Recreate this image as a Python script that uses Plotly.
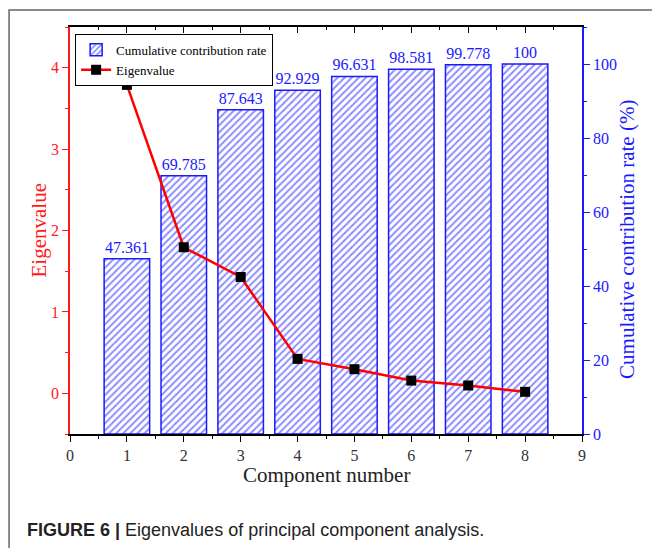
import plotly.graph_objects as go

components = [1, 2, 3, 4, 5, 6, 7, 8]
cumulative_rate = [47.361, 69.785, 87.643, 92.929, 96.631, 98.581, 99.778, 100]
cumulative_labels = ["47.361", "69.785", "87.643", "92.929", "96.631", "98.581", "99.778", "100"]
eigenvalues = [3.789, 1.794, 1.429, 0.423, 0.296, 0.156, 0.096, 0.018]

RED = "#ff1a1a"
BLUE = "#1a1aff"
SERIF = "Liberation Serif"

fig = go.Figure()

fig.add_trace(go.Bar(
    x=components, y=cumulative_rate, name="Cumulative contribution rate",
    width=0.8, yaxis="y", xaxis="x",
    marker=dict(color="white", line=dict(color=BLUE, width=1.5),
                pattern=dict(shape="/", fgcolor=BLUE, bgcolor="white", size=5, solidity=0.4)),
    text=cumulative_labels, textposition="outside", cliponaxis=False,
    textfont=dict(family=SERIF, size=16, color=BLUE),
))

fig.add_trace(go.Scatter(
    x=components, y=eigenvalues, name="Eigenvalue", yaxis="y2", xaxis="x",
    mode="lines+markers",
    line=dict(color="red", width=2.5),
    marker=dict(symbol="square", size=10, color="black"),
))

fig.update_layout(
    width=652, height=548,
    margin=dict(l=70, r=70, t=27, b=114),
    paper_bgcolor="white", plot_bgcolor="white",
    showlegend=True,
    legend=dict(x=0.01, y=0.983, xanchor="left", yanchor="top",
                bordercolor="black", borderwidth=1, bgcolor="white",
                font=dict(family=SERIF, size=13, color="black"),
                tracegroupgap=0, itemwidth=30),
    xaxis=dict(range=[0, 9], dtick=1, tick0=0, showgrid=False, zeroline=False,
               showline=True, linecolor="black", linewidth=1.5,
               ticks="outside", ticklen=6, tickcolor="black",
               minor=dict(ticks="outside", ticklen=3, dtick=0.5, tickcolor="black"),
               tickfont=dict(family=SERIF, size=16, color="#333")),
    xaxis2=dict(range=[0, 9], dtick=1, overlaying="x", side="top", anchor="y",
                showgrid=False, zeroline=False, showline=True, linecolor="black", linewidth=1.5,
                ticks="inside", ticklen=6, tickcolor="black", showticklabels=False,
                minor=dict(ticks="inside", ticklen=3, dtick=0.5, tickcolor="black")),
    yaxis=dict(range=[0, 110], dtick=20, side="right", showgrid=False, zeroline=False,
               showline=True, linecolor=BLUE, linewidth=1.5,
               ticks="outside", ticklen=6, tickcolor=BLUE,
               minor=dict(ticks="outside", ticklen=3, dtick=10, tickcolor=BLUE),
               tickfont=dict(family=SERIF, size=16, color=BLUE)),
    yaxis2=dict(range=[-0.5, 4.5], dtick=1, tick0=0, side="left", overlaying="y",
                showgrid=False, zeroline=False,
                showline=True, linecolor=RED, linewidth=1.5,
                ticks="outside", ticklen=6, tickcolor=RED,
                minor=dict(ticks="outside", ticklen=3, dtick=0.5, tickcolor=RED),
                tickfont=dict(family=SERIF, size=16, color=RED)),
)

# invisible trace to keep the top axis active
fig.add_trace(go.Scatter(x=[0, 9], y=[0, 0], xaxis="x2", yaxis="y", mode="markers",
                         marker=dict(opacity=0), showlegend=False, hoverinfo="skip"))

fig.add_annotation(text="Eigenvalue", xref="paper", yref="paper", x=-0.0625, y=0.5,
                   textangle=-90, showarrow=False, xanchor="center", yanchor="middle",
                   font=dict(family=SERIF, size=21, color=RED))
fig.add_annotation(text="Cumulative contribution rate (%)", xref="paper", yref="paper",
                   x=1.088, y=0.477, textangle=-90, showarrow=False,
                   xanchor="center", yanchor="middle",
                   font=dict(family=SERIF, size=21, color=BLUE))
fig.add_annotation(text="Component number", xref="paper", yref="paper",
                   x=0.5, y=-0.101, showarrow=False, xanchor="center", yanchor="middle",
                   font=dict(family=SERIF, size=21, color="#222"))
fig.add_annotation(text="<b>FIGURE 6 |</b> Eigenvalues of principal component analysis.",
                   xref="paper", yref="paper", x=-0.0879, y=-0.236, showarrow=False,
                   xanchor="left", yanchor="middle",
                   font=dict(family="Liberation Sans", size=18, color="#222"))

fig.add_shape(type="rect", xref="paper", yref="paper", x0=-0.119, x1=1.2, y0=-0.4, y1=1.0418,
              line=dict(color="#666", width=1.5), layer="below")

fig.write_html("out.html", config={"displayModeBar": False},
               post_script="document.body.style.margin='0';")
